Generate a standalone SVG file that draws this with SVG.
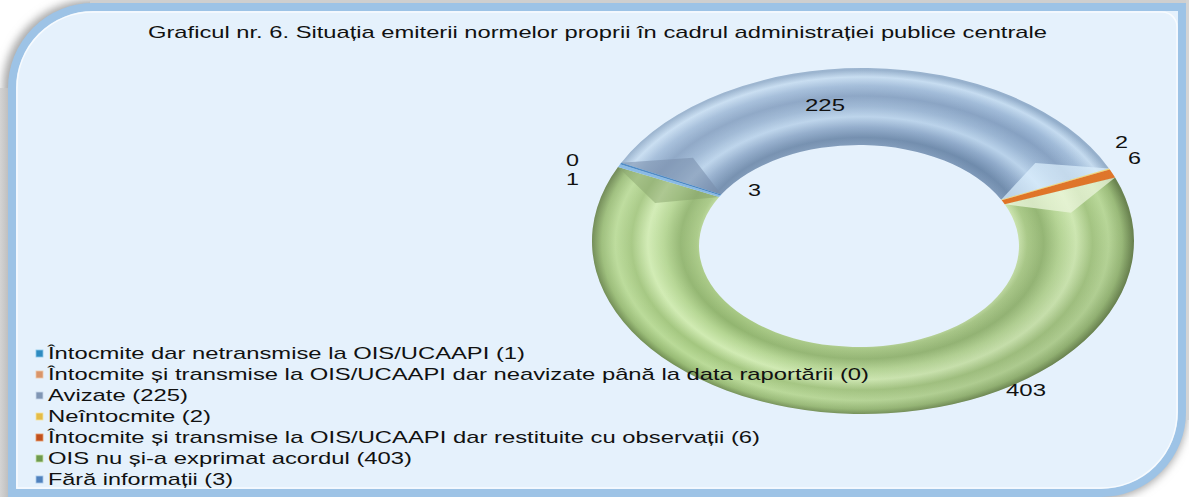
<svg xmlns="http://www.w3.org/2000/svg" width="1189" height="497" viewBox="0 0 1189 497">
<defs>
<style>
text { font-family: "Liberation Sans", Arial, sans-serif; font-size: 17px; fill: #111111; }
.frame { fill: #E5F1FC; stroke: #9DC3E6; stroke-width: 8; }
.mk { stroke-width: 0.8; }
.thin { stroke: none; }
</style>
<radialGradient id="gBlue" gradientUnits="userSpaceOnUse" cx="0" cy="0" r="1" gradientTransform="translate(862 243) scale(271 173)">
<stop offset="0.57" stop-color="#7D98B8"/>
<stop offset="0.61" stop-color="#6F8BAC"/>
<stop offset="0.67" stop-color="#8FAACA"/>
<stop offset="0.73" stop-color="#B9D2EA"/>
<stop offset="0.79" stop-color="#9AB5D3"/>
<stop offset="0.85" stop-color="#86A1C2"/>
<stop offset="0.91" stop-color="#9FBAD8"/>
<stop offset="0.96" stop-color="#C4DBF0"/>
<stop offset="1" stop-color="#93AECB"/>
</radialGradient>
<radialGradient id="gGreen" gradientUnits="userSpaceOnUse" cx="0" cy="0" r="1" gradientTransform="translate(862 243) scale(271 173)">
<stop offset="0.57" stop-color="#CFE8B2"/>
<stop offset="0.61" stop-color="#A8C985"/>
<stop offset="0.67" stop-color="#92B570"/>
<stop offset="0.73" stop-color="#B5D693"/>
<stop offset="0.79" stop-color="#D0EBB2"/>
<stop offset="0.85" stop-color="#A3C67F"/>
<stop offset="0.91" stop-color="#B9DA97"/>
<stop offset="0.96" stop-color="#98BB75"/>
<stop offset="1" stop-color="#647F48"/>
</radialGradient>
<linearGradient id="gLight" x1="0" y1="0" x2="1" y2="1">
<stop offset="0" stop-color="#FFFFFF" stop-opacity="0.15"/>
<stop offset="0.5" stop-color="#FFFFFF" stop-opacity="0"/>
<stop offset="1" stop-color="#203010" stop-opacity="0.25"/>
</linearGradient>
<linearGradient id="gLeftShadow" x1="0" y1="0" x2="1" y2="0">
<stop offset="0" stop-color="#D4D4D4"/>
<stop offset="1" stop-color="#BDBDBD"/>
</linearGradient>
<filter id="fBlur" x="-5%" y="-5%" width="110%" height="110%">
<feGaussianBlur stdDeviation="4"/>
</filter>
</defs>

<g id="frame">
<rect x="0" y="0" width="1189" height="497" fill="#FFFFFF"/>
<path d="M 12 88 A 81 81 0 0 1 93 7 L 1182 7 L 1182 412 A 81 81 0 0 1 1101 493 L 12 493 Z" fill="none" stroke="#A8A8A8" stroke-width="14" filter="url(#fBlur)" transform="translate(-2 0)"/>
<rect x="0" y="88" width="9" height="409" fill="url(#gLeftShadow)"/>
<rect x="90" y="0" width="1099" height="4" fill="#CFCFCF"/>
<rect x="1186" y="0" width="3" height="420" fill="#D4D4D4"/>
<path class="frame" d="M 12 88 A 81 81 0 0 1 93 7 L 1182 7 L 1182 412 A 81 81 0 0 1 1101 493 L 12 493 Z"/>
<path d="M 17 88 A 76 76 0 0 1 93 12 L 1162 12 A 15 15 0 0 1 1177 27 L 1177 412 A 76 76 0 0 1 1101 488 L 17 488 Z" fill="none" stroke="#FFFFFF" stroke-opacity="0.7" stroke-width="1.5"/>
</g>

<g id="title">
<text x="148" y="38" textLength="899" lengthAdjust="spacingAndGlyphs">Graficul nr. 6. Situația emiterii normelor proprii în cadrul administrației publice centrale</text>
</g>

<g id="ring">
<g id="seg-ois-nu">
<path d="M 1115.1 177.6 A 271 173 0 1 1 618.0 167.1 L 719.1 197.0 A 160 101 0 1 0 1004.7 204.3 Z" fill="url(#gGreen)"/>
<polygon points="1115.1,177.6 1071,212.7 1004.7,204.3" fill="#EEF8DE" fill-opacity="0.75"/>
<polygon points="618,167.1 655.1,203 719.1,197" fill="#7E9C60" fill-opacity="0.5"/>
</g>
<g id="seg-avizate">
<path d="M 621.3 162.7 A 271 173 0 0 1 1109.0 168.4 L 1001.2 199.7 A 160 101 0 0 0 721.3 194.6 Z" fill="url(#gBlue)"/>
<polygon points="621.3,162.7 693,157.7 721.3,194.6" fill="#6F87A6" fill-opacity="0.6"/>
<polygon points="1109,168.4 1035.3,163 1001.2,199.7" fill="#DDF1FF" fill-opacity="0.7"/>
</g>
<g id="seg-neintocmite">
<path class="thin" d="M 1109.0 168.4 A 271 173 0 0 1 1109.8 169.5 L 1001.7 200.3 A 160 101 0 0 0 1001.2 199.7 Z" fill="#F2DA70"/>
</g>
<g id="seg-restituite">
<path class="thin" d="M 1109.8 169.5 A 271 173 0 0 1 1115.1 177.6 L 1004.7 204.3 A 160 101 0 0 0 1001.7 200.3 Z" fill="#E07020"/>
</g>
<g id="seg-fara-info">
<path class="thin" d="M 618.0 167.1 A 271 173 0 0 1 620.0 164.3 L 720.4 195.5 A 160 101 0 0 0 719.1 197.0 Z" fill="#7FB4E2"/>
</g>
<g id="seg-netransmise">
<path class="thin" d="M 620.0 164.3 A 271 173 0 0 1 621.3 162.7 L 721.3 194.6 A 160 101 0 0 0 720.4 195.5 Z" fill="#3F80BF"/>
</g>
<path d="M 592 241 A 271 173 0 1 1 1134 241 A 271 173 0 1 1 592 241 Z M 699 246 A 160 101 0 1 0 1019 246 A 160 101 0 1 0 699 246 Z" fill="url(#gLight)" fill-rule="evenodd"/>
</g>

<g id="data-labels">
<text x="805" y="111" textLength="40" lengthAdjust="spacingAndGlyphs">225</text>
<text x="566" y="166" textLength="13" lengthAdjust="spacingAndGlyphs">0</text>
<text x="566" y="185" textLength="13" lengthAdjust="spacingAndGlyphs">1</text>
<text x="748" y="196" textLength="13" lengthAdjust="spacingAndGlyphs">3</text>
<text x="1115" y="148" textLength="13" lengthAdjust="spacingAndGlyphs">2</text>
<text x="1128" y="164" textLength="13" lengthAdjust="spacingAndGlyphs">6</text>
<text x="1006" y="396" textLength="40" lengthAdjust="spacingAndGlyphs">403</text>
</g>

<g id="legend">
<g id="leg-netransmise">
<rect class="mk" x="36" y="350" width="7" height="7" fill="#2E8BC0" stroke="#8CC8EA"/>
<text x="48" y="359" textLength="477" lengthAdjust="spacingAndGlyphs">Întocmite dar netransmise la OIS/UCAAPI (1)</text>
</g>
<g id="leg-neavizate">
<rect class="mk" x="36" y="371" width="7" height="7" fill="#D9956A" stroke="#F0C8A8"/>
<text x="48" y="380" textLength="821" lengthAdjust="spacingAndGlyphs">Întocmite și transmise la OIS/UCAAPI dar neavizate până la data raportării (0)</text>
</g>
<g id="leg-avizate">
<rect class="mk" x="36" y="392" width="7" height="7" fill="#8096B4" stroke="#C8D8EA"/>
<text x="48" y="401" textLength="140" lengthAdjust="spacingAndGlyphs">Avizate (225)</text>
</g>
<g id="leg-neintocmite">
<rect class="mk" x="36" y="413" width="7" height="7" fill="#E4BC48" stroke="#F6E3A0"/>
<text x="48" y="422" textLength="163" lengthAdjust="spacingAndGlyphs">Neîntocmite (2)</text>
</g>
<g id="leg-restituite">
<rect class="mk" x="36" y="434" width="7" height="7" fill="#C0501E" stroke="#E89868"/>
<text x="48" y="443" textLength="712" lengthAdjust="spacingAndGlyphs">Întocmite și transmise la OIS/UCAAPI dar restituite cu observații (6)</text>
</g>
<g id="leg-ois-nu">
<rect class="mk" x="36" y="455" width="7" height="7" fill="#6E9A4E" stroke="#C6E2A8"/>
<text x="48" y="464" textLength="364" lengthAdjust="spacingAndGlyphs">OIS nu și-a exprimat acordul (403)</text>
</g>
<g id="leg-fara-info">
<rect class="mk" x="36" y="476" width="7" height="7" fill="#4F81BD" stroke="#A8C8EA"/>
<text x="48" y="485" textLength="185" lengthAdjust="spacingAndGlyphs">Fără informații (3)</text>
</g>
</g>
</svg>
